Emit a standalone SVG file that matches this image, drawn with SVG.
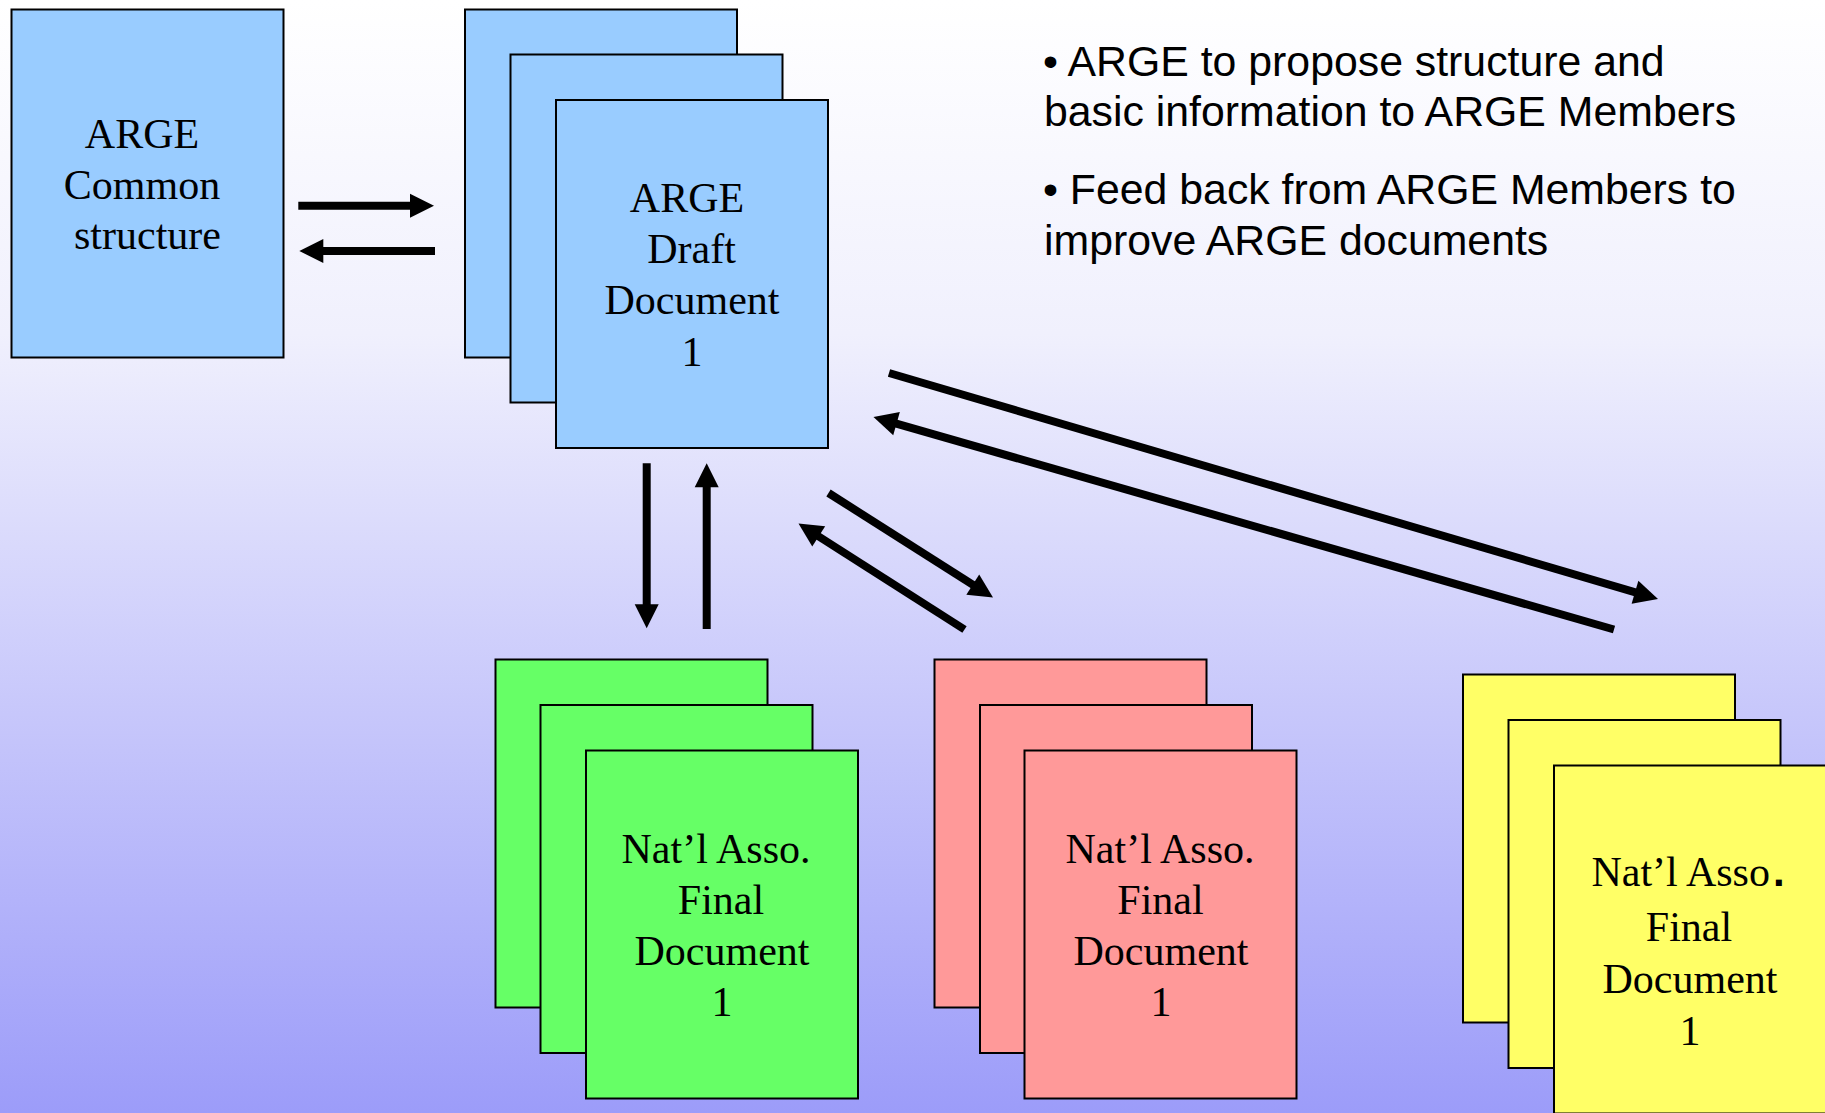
<svg xmlns="http://www.w3.org/2000/svg" width="1825" height="1113" viewBox="0 0 1825 1113">
  <defs>
    <linearGradient id="bg" x1="0" y1="0" x2="0" y2="1">
      <stop offset="0" stop-color="#FFFFFF"/>
      <stop offset="0.3" stop-color="#F0F0FD"/>
      <stop offset="1" stop-color="#9C9CF9"/>
    </linearGradient>
    <marker id="ah" markerUnits="strokeWidth" markerWidth="3" markerHeight="3" refX="1.5" refY="1.5" orient="auto" overflow="visible">
      <path d="M0,0 L3,1.5 L0,3 z" fill="#000"/>
    </marker>
    <style>
      .box { stroke: #000; stroke-width: 2; }
      .blue { fill: #99CCFF; }
      .green { fill: #66FF66; }
      .red { fill: #FF9999; }
      .yellow { fill: #FFFF66; }
      .lbl { font-family: "Liberation Serif", "Times New Roman", serif; font-size: 42px; fill: #000; text-anchor: middle; }
      .note { font-family: "Liberation Sans", Arial, sans-serif; font-size: 42.8px; fill: #000; }
      .conn { stroke: #000; stroke-width: 8; fill: none; marker-end: url(#ah); }
    </style>
  </defs>
  <rect x="0" y="0" width="1825" height="1113" fill="url(#bg)"/>

  <g id="arge-common">
    <rect class="box blue" x="11.5" y="9.5" width="272" height="348"/>
    <text class="lbl" x="142" y="148">ARGE</text>
    <text class="lbl" x="142" y="199">Common</text>
    <text class="lbl" x="147.5" y="249">structure</text>
  </g>

  <g id="arge-draft">
    <rect class="box blue" x="465" y="9.5" width="272" height="348"/>
    <rect class="box blue" x="510.5" y="54.5" width="272" height="348"/>
    <rect class="box blue" x="556" y="100" width="272" height="348"/>
    <text class="lbl" x="687" y="212">ARGE</text>
    <text class="lbl" x="691.5" y="263">Draft</text>
    <text class="lbl" x="692" y="314">Document</text>
    <text class="lbl" x="692" y="366">1</text>
  </g>

  <g id="nat-green">
    <rect class="box green" x="495.5" y="659.5" width="272" height="348"/>
    <rect class="box green" x="540.5" y="705" width="272" height="348"/>
    <rect class="box green" x="586" y="750.5" width="272" height="348"/>
    <text class="lbl" x="716" y="862.5">Nat’l Asso.</text>
    <text class="lbl" x="721" y="913.5">Final</text>
    <text class="lbl" x="722" y="965">Document</text>
    <text class="lbl" x="722" y="1016">1</text>
  </g>

  <g id="nat-red">
    <rect class="box red" x="934.5" y="659.5" width="272" height="348"/>
    <rect class="box red" x="980" y="705" width="272" height="348"/>
    <rect class="box red" x="1024.5" y="750.5" width="272" height="348"/>
    <text class="lbl" x="1160" y="862.5">Nat’l Asso.</text>
    <text class="lbl" x="1160.5" y="913.5">Final</text>
    <text class="lbl" x="1161" y="965">Document</text>
    <text class="lbl" x="1161" y="1016">1</text>
  </g>

  <g id="nat-yellow">
    <rect class="box yellow" x="1463" y="674.5" width="272" height="348"/>
    <rect class="box yellow" x="1508.5" y="720" width="272" height="348"/>
    <rect class="box yellow" x="1554" y="765.5" width="272" height="348"/>
    <text class="lbl" x="1688" y="886">Nat’l Asso<tspan font-family="Liberation Sans, Arial, sans-serif" font-weight="bold" dx="3">.</tspan></text>
    <text class="lbl" x="1689" y="940.5">Final</text>
    <text class="lbl" x="1690" y="993">Document</text>
    <text class="lbl" x="1690" y="1045">1</text>
  </g>

  <g id="notes">
    <text class="note" x="1043" y="75.5">• ARGE to propose structure and</text>
    <text class="note" x="1044" y="126">basic information to ARGE Members</text>
    <text class="note" x="1043" y="204">• Feed back from ARGE Members to</text>
    <text class="note" x="1044" y="255">improve ARGE documents</text>
  </g>

  <g id="connectors">
    <line class="conn" x1="298.3" y1="205.7" x2="422" y2="205.7"/>
    <line class="conn" x1="435" y1="251" x2="311.3" y2="251"/>
    <line class="conn" x1="646.7" y1="463.3" x2="646.7" y2="616.3"/>
    <line class="conn" x1="706.7" y1="629" x2="706.7" y2="475.3"/>
    <line class="conn" x1="828.5" y1="493" x2="982.9" y2="591.1"/>
    <line class="conn" x1="964.5" y1="629.5" x2="808.6" y2="530"/>
    <line class="conn" x1="889" y1="373" x2="1646.5" y2="595.6"/>
    <line class="conn" x1="1614" y1="629.5" x2="885" y2="420.3"/>
  </g>
</svg>
